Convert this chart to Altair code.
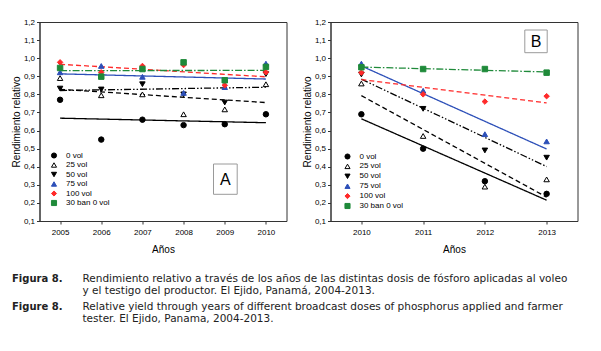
import altair as alt
import pandas as pd

# ---------------- data ----------------
series = ["0 vol", "25 vol", "50 vol", "75 vol", "100 vol", "30 ban 0 vol"]

years_a = [2005, 2006, 2007, 2008, 2009, 2010]
a_0vol = [0.77, 0.55, 0.66, 0.63, 0.635, 0.69]
a_25vol = [0.89, 0.795, 0.80, 0.69, 0.717, 0.856]
a_50vol = [0.832, 0.827, 0.856, 0.80, 0.755, 0.912]
a_75vol = [0.922, 0.957, 0.897, 0.808, 0.84, 0.97]
a_100vol = [0.977, 0.922, 0.957, 0.962, 0.85, 0.922]
a_30ban = [0.946, 0.898, 0.940, 0.977, 0.878, 0.952]

years_b = [2010, 2011, 2012, 2013]
b_0vol = [0.69, 0.50, 0.32, 0.25]
b_25vol = [0.86, 0.57, 0.29, 0.33]
b_50vol = [0.91, 0.72, 0.49, 0.45]
b_75vol = [0.97, 0.82, 0.58, 0.54]
b_100vol = [0.92, 0.80, 0.76, 0.79]
b_30ban = [0.95, 0.94, 0.94, 0.92]

y_ticks = [0.1, 0.2, 0.3, 0.4, 0.5, 0.6, 0.7, 0.8, 0.9, 1.0, 1.1, 1.2]

caption_es_label = "Figura 8."
caption_en_label = "Figure 8."
caption_es = ["Rendimiento relativo a través de los años de las distintas dosis de fósforo aplicadas al voleo",
              "y el testigo del productor. El Ejido, Panamá, 2004-2013."]
caption_en = ["Relative yield through years of different broadcast doses of phosphorus applied and farmer",
              "tester. El Ejido, Panama, 2004-2013."]


def long_df(years, cols):
    rows = []
    for s, vals in zip(series, cols):
        for yr, v in zip(years, vals):
            rows.append({"year": yr, "value": v, "series": s})
    return pd.DataFrame(rows)


df_a = long_df(years_a, [a_0vol, a_25vol, a_50vol, a_75vol, a_100vol, a_30ban])
df_b = long_df(years_b, [b_0vol, b_25vol, b_50vol, b_75vol, b_100vol, b_30ban])

# ---------------- styles ----------------
BLUE = "#2c4fb8"
RED = "#ff2a2a"
GREEN = "#1f8a3a"
line_colors = ["#000000", "#000000", "#000000", BLUE, RED, GREEN]
fill_colors = ["#000000", "#ffffff", "#000000", BLUE, RED, GREEN]
stroke_colors = ["#000000", "#000000", "#000000", BLUE, RED, GREEN]
shapes = ["circle", "triangle-up", "triangle-down", "triangle-up", "diamond", "square"]
dashes = [[1, 0], [5, 3], [7, 2, 1.5, 2, 1.5, 2], [1, 0], [5, 3], [7, 2, 1.5, 2]]

AX_FONT = "Liberation Sans"
W, H = 247, 199


def panel(df, years, domain, leg_x, leg_y, row_pad, box, letter_xy, letter, extra=None):
    x = alt.X("year:Q",
              scale=alt.Scale(domain=domain, nice=False, zero=False),
              axis=alt.Axis(values=years, format="d", title="Años", grid=False,
                            tickSize=3, labelPadding=4, titlePadding=8))
    y = alt.Y("value:Q",
              scale=alt.Scale(domain=[0.1, 1.2], nice=False, zero=False),
              axis=alt.Axis(values=y_ticks, grid=False, tickSize=3, labelPadding=2,
                            labelExpr="replace(format(datum.value, '.1f'), '.', ',')",
                            title="Rendimiento relativo", titlePadding=2))
    base = alt.Chart(df)
    # data-driven (sorted) domains here so that these hidden-legend scales do not
    # get merged with the visible point legend
    lines = base.transform_regression("year", "value", groupby=["series"]).mark_line(
        strokeWidth=1.3).encode(
        x=x, y=y,
        color=alt.Color("series:N", sort=series, scale=alt.Scale(range=line_colors), legend=None),
        strokeDash=alt.StrokeDash("series:N", sort=series, scale=alt.Scale(range=dashes), legend=None),
    )
    leg = alt.Legend(orient="none", legendX=leg_x, legendY=leg_y, title=None,
                     labelFont=AX_FONT, labelFontSize=8, labelColor="#000",
                     symbolSize=26, symbolStrokeWidth=1, rowPadding=row_pad,
                     labelOffset=8, padding=0)
    points = base.mark_point(filled=True, size=30, opacity=1, strokeWidth=1).encode(
        x=x, y=y,
        shape=alt.Shape("series:N", scale=alt.Scale(domain=series, range=shapes), legend=leg),
        fill=alt.Fill("series:N", scale=alt.Scale(domain=series, range=fill_colors), legend=leg),
        stroke=alt.Stroke("series:N", scale=alt.Scale(domain=series, range=stroke_colors), legend=leg),
    )
    one = alt.Chart(pd.DataFrame({"k": [0]}))
    rect = one.mark_rect(fill="white", stroke="#9a9a9a", strokeWidth=1).encode(
        x=alt.value(box[0]), x2=alt.value(box[1]), y=alt.value(box[2]), y2=alt.value(box[3]))
    txt = one.mark_text(text=letter, font=AX_FONT, fontSize=16, align="center",
                        baseline="middle", color="#000").encode(
        x=alt.value(letter_xy[0]), y=alt.value(letter_xy[1]))
    layers = [lines, points, rect, txt]
    if extra:
        layers += extra
    return alt.layer(*layers).properties(width=W, height=H)


one = alt.Chart(pd.DataFrame({"k": [0]}))
CAP_FONT = "DejaVu Sans"
CAP_SIZE = 10.5
cap_x = 43
cap_label_x = 23
cap_ys = [256.5, 269, 284.5, 297]
caption = [
    one.mark_text(text=caption_es_label, font=CAP_FONT, fontSize=10, fontWeight="bold",
                  align="right", baseline="middle", color="#222").encode(
        x=alt.value(cap_label_x), y=alt.value(cap_ys[0])),
    one.mark_text(text=caption_en_label, font=CAP_FONT, fontSize=10, fontWeight="bold",
                  align="right", baseline="middle", color="#222").encode(
        x=alt.value(cap_label_x), y=alt.value(cap_ys[2])),
]
for txt, yy in zip(caption_es + caption_en, cap_ys):
    caption.append(one.mark_text(text=txt, font=CAP_FONT, fontSize=CAP_SIZE, align="left",
                                 baseline="middle", color="#222").encode(
        x=alt.value(cap_x), y=alt.value(yy)))

panel_a = panel(df_a, years_a, [2004.5, 2010.5], 10.5, 129.5, -0.5,
                (174, 197.7, 142, 172.3), (185.9, 157.5), "A", extra=caption)
panel_b = panel(df_b, years_b, [2009.5, 2013.5], 13, 130.5, -0.1,
                (194.3, 216.7, 8, 30.7), (205.5, 19.5), "B")

chart = alt.hconcat(panel_a, panel_b, spacing=44, bounds="flush").resolve_scale(
    color="independent", strokeDash="independent", shape="independent",
    fill="independent", stroke="independent"
).resolve_legend(
    shape="independent", fill="independent", stroke="independent"
).properties(
    padding={"left": 10.5, "top": 17, "right": 5, "bottom": 5},
    background="white"
).configure_view(
    stroke="#333", strokeWidth=1
).configure_axis(
    labelFont=AX_FONT, labelFontSize=8, labelColor="#000",
    titleFont=AX_FONT, titleFontSize=10, titleFontWeight="normal", titleColor="#000",
    domainColor="#333", tickColor="#333"
)

chart.save("out.html", embed_options={"renderer": "svg", "actions": False})
